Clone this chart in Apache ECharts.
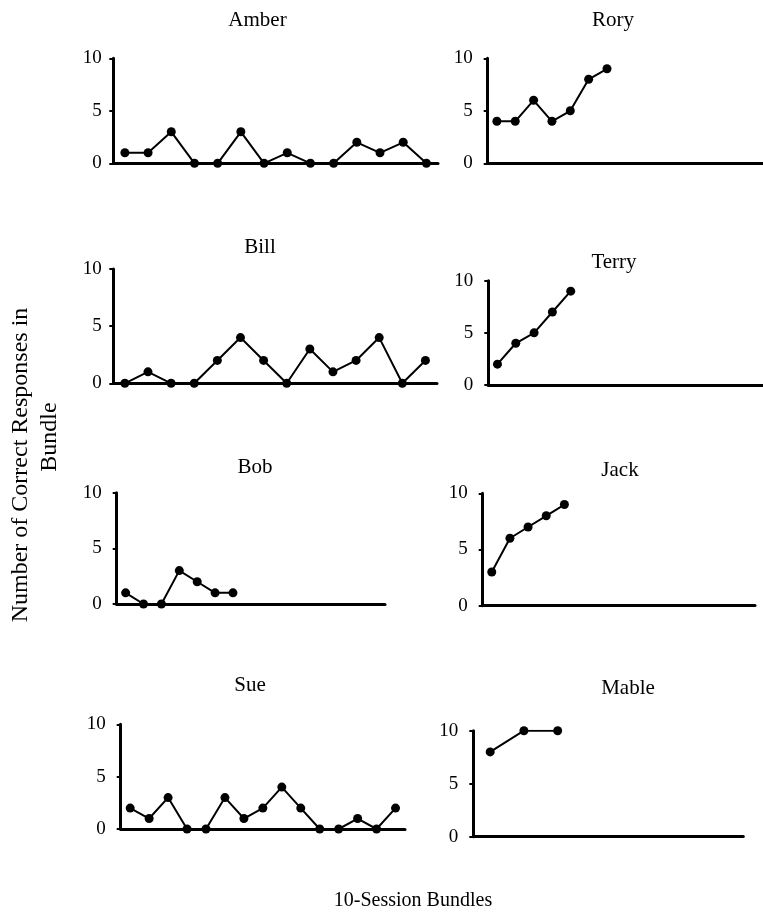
<!DOCTYPE html>
<html>
<head>
<meta charset="utf-8">
<script src="https://cdn.jsdelivr.net/npm/echarts@6/dist/echarts.min.js"></script>
<style>
html,body{margin:0;padding:0;background:#fff;}
#chart{width:763px;height:914px;}
</style>
</head>
<body>
<div id="chart"></div>
<script>
// ---- data ----
const names = ['Amber', 'Rory', 'Bill', 'Terry', 'Bob', 'Jack', 'Sue', 'Mable'];
const amber = [1, 1, 3, 0, 0, 3, 0, 1, 0, 0, 2, 1, 2, 0];
const rory = [4, 4, 6, 4, 5, 8, 9];
const bill = [0, 1, 0, 0, 2, 4, 2, 0, 3, 1, 2, 4, 0, 2];
const terry = [2, 4, 5, 7, 9];
const bob = [1, 0, 0, 3, 2, 1, 1];
const jack = [3, 6, 7, 8, 9];
const sue = [2, 1, 3, 0, 0, 3, 1, 2, 4, 2, 0, 0, 1, 0, 2];
const mable = [8, 10, 10];
const bundleSlots = [14, 15, 14, 15, 15, 15, 15, 8];
const yTicks = [0, 5, 10];
const yAxisTitleLines = ['Number of Correct Responses in', 'Bundle'];
const xAxisTitle = '10-Session Bundles';

const seriesData = [amber, rory, bill, terry, bob, jack, sue, mable];

// ---- layout (pixels) ----
const grids = [
  {left: 113.3, top: 58.3, width: 324.7, height: 105},
  {left: 487.7, top: 58.3, width: 283.5, height: 105},
  {left: 113.3, top: 269, width: 323.7, height: 114.3},
  {left: 488.3, top: 280.7, width: 285, height: 104.3},
  {left: 116.7, top: 492.7, width: 268.3, height: 111.3},
  {left: 482.7, top: 493.3, width: 272.3, height: 112.4},
  {left: 120.7, top: 724.3, width: 284.3, height: 104.7},
  {left: 473.3, top: 730.7, width: 270, height: 106}
];
const labelMargins = [11.5, 15, 11.5, 15, 15, 15, 15, 15];
const titlePos = [
  [257.5, 20], [613, 20], [260, 247], [614, 262],
  [255, 467], [620, 470], [250, 685], [628, 688]
];

const FONT = '"Liberation Serif", "Times New Roman", serif';

const option = {
  animation: false,
  backgroundColor: '#fff',
  grid: grids.map(g => Object.assign({containLabel: false}, g)),
  xAxis: grids.map((g, i) => ({
    type: 'category',
    gridIndex: i,
    boundaryGap: true,
    data: Array.from({length: bundleSlots[i]}, (_, k) => String(k + 1)),
    axisLine: {show: true, onZero: true, lineStyle: {color: '#000', width: 3}},
    axisTick: {show: false},
    axisLabel: {show: false},
    splitLine: {show: false}
  })),
  yAxis: grids.map((g, i) => ({
    type: 'value',
    gridIndex: i,
    min: yTicks[0],
    max: yTicks[yTicks.length - 1],
    interval: yTicks[1] - yTicks[0],
    axisLine: {show: true, lineStyle: {color: '#000', width: 3}},
    axisTick: {show: true, length: 4, lineStyle: {color: '#000', width: 2}},
    axisLabel: {show: true, color: '#000', fontFamily: FONT, fontSize: 19, margin: labelMargins[i]},
    splitLine: {show: false}
  })),
  series: seriesData.map((d, i) => ({
    type: 'line',
    xAxisIndex: i,
    yAxisIndex: i,
    data: d,
    symbol: 'circle',
    symbolSize: 9,
    showSymbol: true,
    lineStyle: {color: '#000', width: 2},
    itemStyle: {color: '#000'},
    z: 3
  })),
  graphic: [
    ...names.map((n, i) => ({
      type: 'text',
      x: titlePos[i][0],
      y: titlePos[i][1],
      style: {text: n, fill: '#000', font: '21px ' + FONT, textAlign: 'center', textVerticalAlign: 'middle'}
    })),
    {
      type: 'text',
      x: 21,
      y: 465,
      rotation: Math.PI / 2,
      style: {text: yAxisTitleLines[0], fill: '#000', font: '24px ' + FONT, textAlign: 'center', textVerticalAlign: 'middle'}
    },
    {
      type: 'text',
      x: 50,
      y: 437,
      rotation: Math.PI / 2,
      style: {text: yAxisTitleLines[1], fill: '#000', font: '24px ' + FONT, textAlign: 'center', textVerticalAlign: 'middle'}
    },
    {
      type: 'text',
      x: 413,
      y: 901,
      style: {text: xAxisTitle, fill: '#000', font: '20px ' + FONT, textAlign: 'center', textVerticalAlign: 'middle'}
    }
  ]
};

const chart = echarts.init(document.getElementById('chart'), null, {renderer: 'canvas'});
chart.setOption(option);
</script>
</body>
</html>
